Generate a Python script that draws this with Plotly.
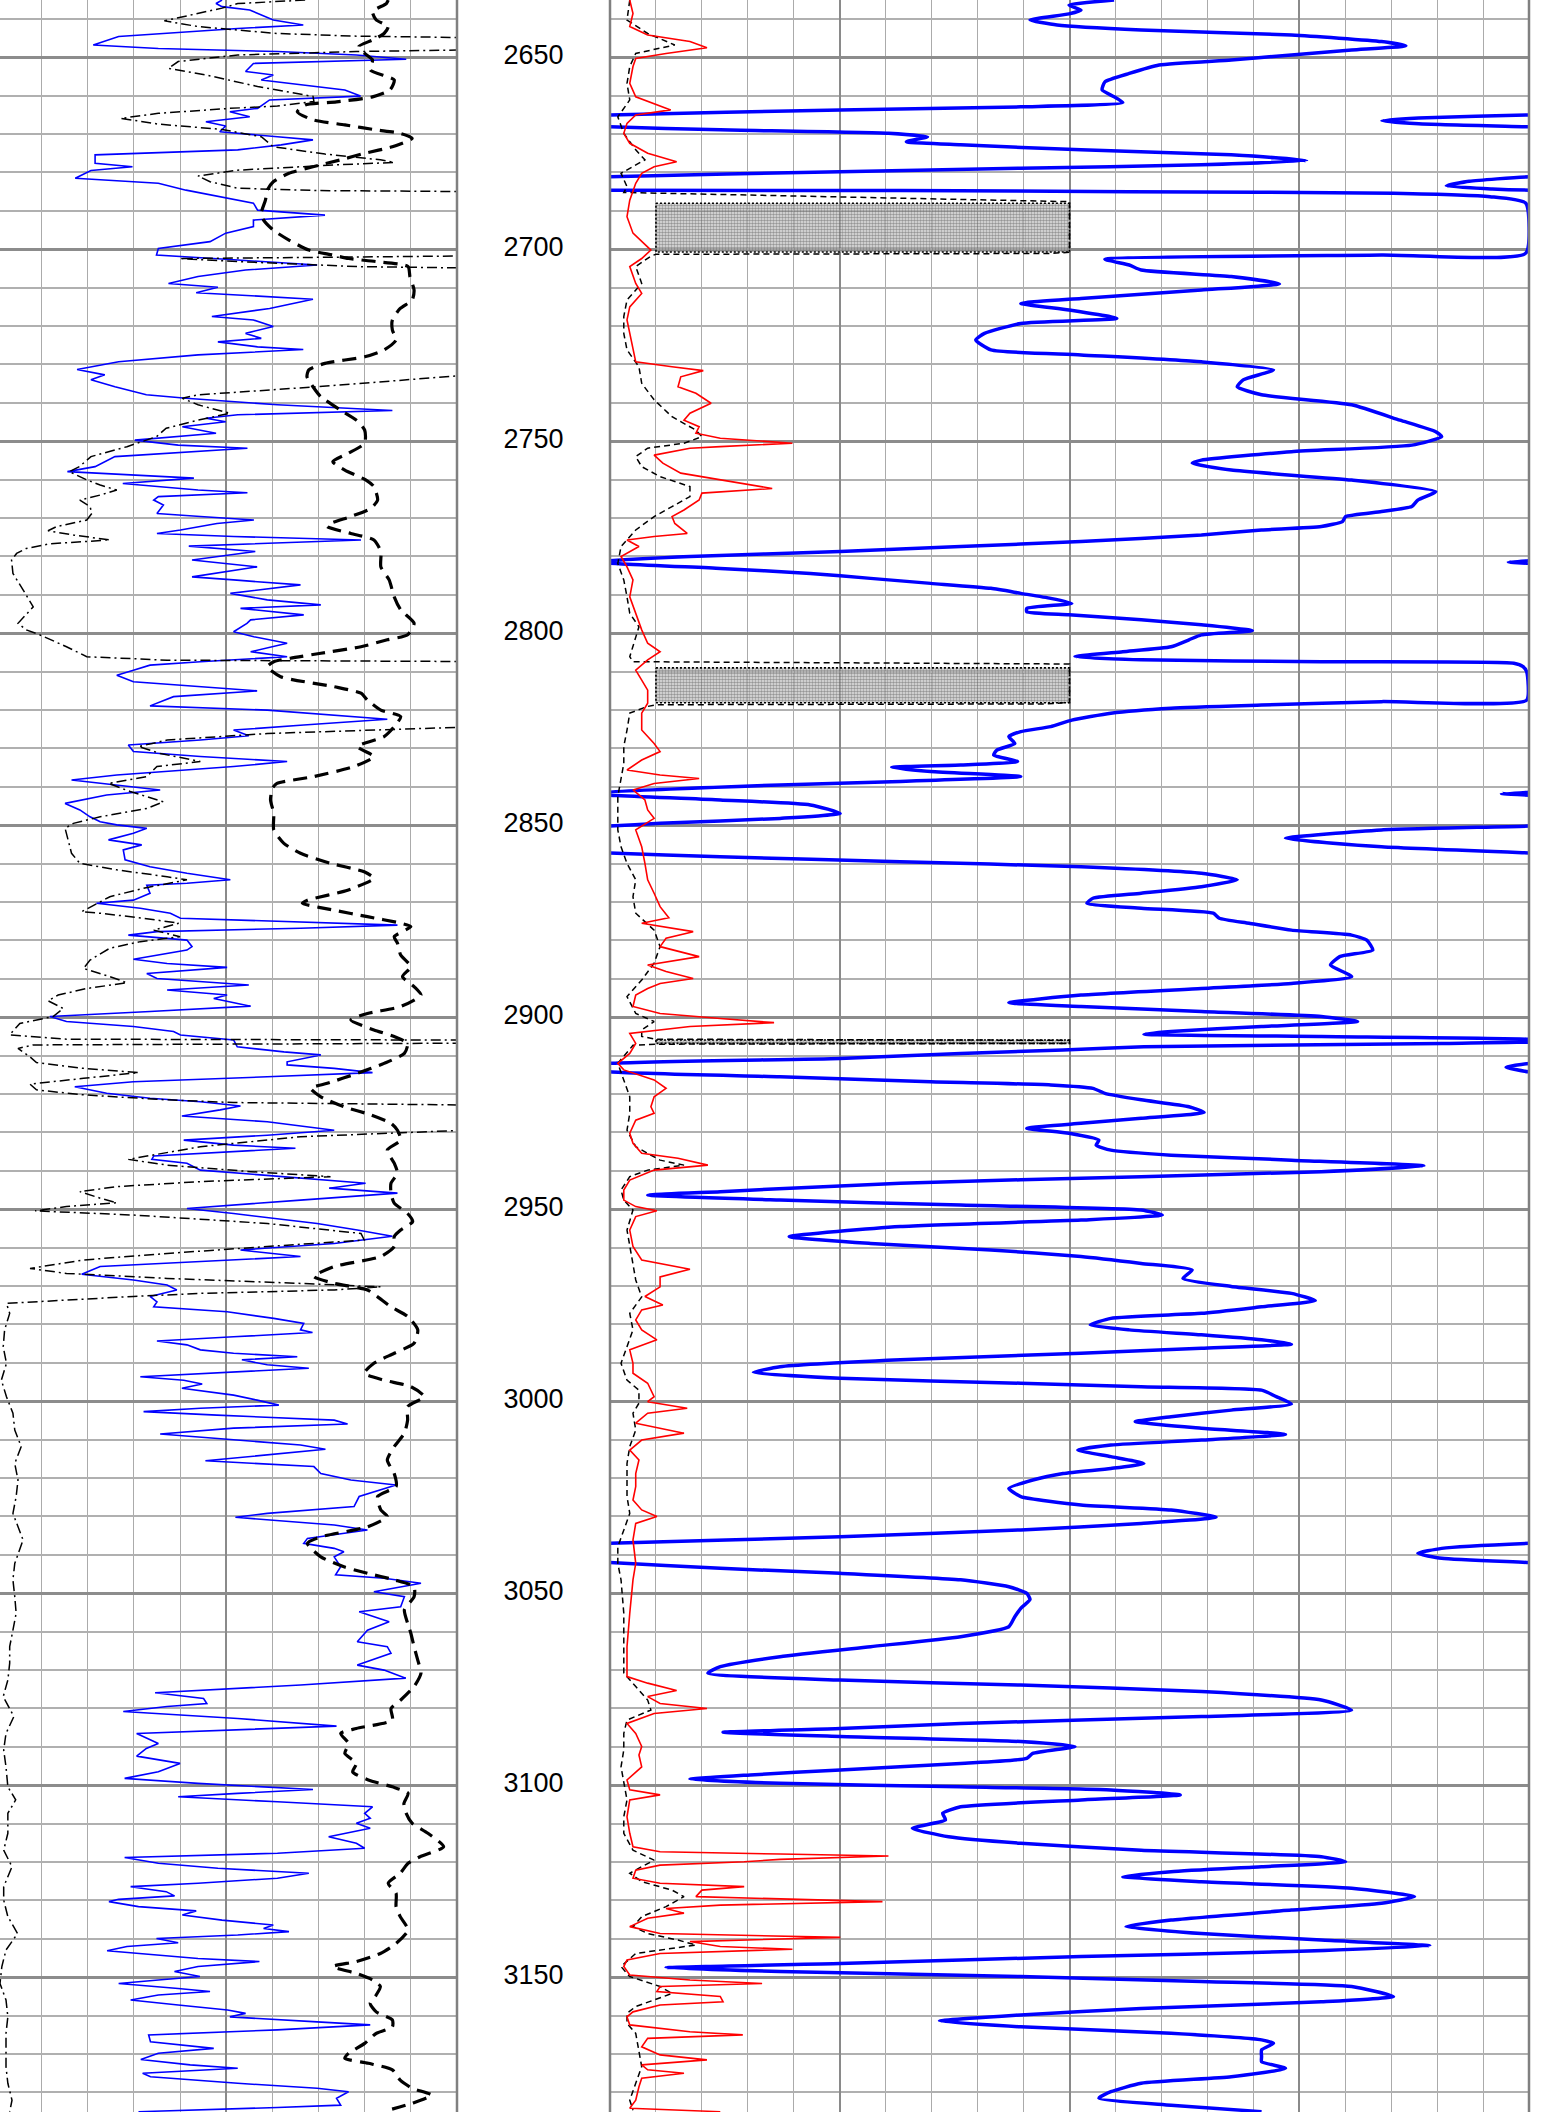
import plotly.graph_objects as go

# ---------------- figure geometry ----------------
W, H = 1543, 2112
DEPTH_TOP, DEPTH_BOT = 2635.08, 3185.08

# ---------------- data (depth m, value in chart divisions) ----------------
depth_labels = [2650, 2700, 2750, 2800, 2850, 2900, 2950, 3000, 3050, 3100, 3150]

# Track 1 : thin blue curve
t1_blue = [
    (2635.1, 4.91), (2636.0, 4.78), (2636.8, 4.91), (2637.7, 5.51), (2640.3, 6.02), (2641.6, 6.67),
    (2642.5, 5.25), (2644.6, 2.67), (2646.8, 2.12), (2647.7, 3.53), (2648.5, 6.11), (2649.4, 7.82),
    (2650.5, 8.90), (2651.6, 5.59), (2653.7, 5.42), (2654.6, 6.02), (2655.9, 5.76), (2657.2, 6.62),
    (2658.5, 7.57), (2660.1, 7.91), (2661.1, 5.94), (2663.3, 5.68), (2664.2, 5.08), (2665.5, 5.51),
    (2666.8, 4.56), (2667.9, 4.99), (2669.4, 4.86), (2670.7, 6.11), (2671.5, 6.88), (2672.8, 6.19),
    (2674.1, 5.25), (2675.4, 2.16), (2677.6, 2.16), (2678.5, 2.97), (2679.5, 2.07), (2681.5, 1.73),
    (2682.8, 3.53), (2684.6, 4.13), (2686.7, 4.99), (2688.0, 5.59), (2689.8, 5.68), (2691.1, 7.14),
    (2692.4, 5.59), (2694.1, 5.59), (2695.8, 4.99), (2698.0, 4.65), (2699.8, 3.53), (2701.5, 3.49),
    (2702.8, 5.25), (2704.1, 6.97), (2705.4, 5.42), (2707.1, 4.39), (2708.9, 3.75), (2709.9, 4.82),
    (2711.3, 4.35), (2712.3, 6.02), (2713.0, 6.88), (2715.4, 5.94), (2717.5, 4.69), (2718.4, 5.59),
    (2720.1, 6.02), (2721.9, 5.42), (2723.2, 5.76), (2724.1, 4.82), (2725.4, 5.68), (2726.1, 6.67),
    (2727.5, 4.39), (2729.3, 2.67), (2731.3, 1.77), (2732.7, 2.37), (2734.0, 2.07), (2735.8, 2.59),
    (2737.9, 3.27), (2738.8, 4.13), (2740.5, 6.11), (2742.0, 8.60), (2743.1, 5.25), (2744.0, 4.56),
    (2744.9, 4.99), (2746.2, 4.05), (2747.9, 4.78), (2749.7, 3.02), (2751.0, 3.96), (2751.8, 5.46),
    (2754.0, 2.59), (2756.6, 2.16), (2757.9, 1.56), (2759.6, 4.30), (2761.0, 2.76), (2762.7, 4.39),
    (2763.4, 5.46), (2764.4, 3.53), (2765.3, 3.43), (2766.6, 3.64), (2768.8, 3.50), (2769.6, 4.44),
    (2770.5, 5.60), (2771.4, 4.80), (2773.1, 4.01), (2774.0, 3.50), (2774.8, 5.16), (2775.7, 7.92),
    (2776.6, 5.89), (2777.3, 4.19), (2778.7, 5.63), (2780.9, 4.26), (2782.7, 5.67), (2785.3, 4.26),
    (2786.1, 5.16), (2787.4, 6.61), (2789.6, 5.09), (2791.3, 5.89), (2792.6, 7.05), (2793.5, 5.31),
    (2795.2, 6.68), (2796.5, 5.53), (2797.4, 5.45), (2799.6, 5.16), (2800.9, 5.60), (2802.6, 6.32),
    (2804.8, 5.53), (2806.1, 6.32), (2807.4, 4.44), (2808.3, 3.35), (2809.6, 2.99), (2810.9, 2.63),
    (2812.6, 2.99), (2813.9, 4.44), (2815.0, 5.67), (2816.5, 3.86), (2818.9, 3.35), (2820.0, 5.89),
    (2821.3, 7.34), (2822.4, 8.49), (2823.9, 6.68), (2825.2, 5.16), (2826.7, 5.49), (2827.8, 4.44),
    (2829.1, 2.88), (2830.8, 2.99), (2832.1, 4.44), (2833.4, 6.32), (2834.7, 5.16), (2835.6, 4.08),
    (2836.9, 2.63), (2838.2, 1.65), (2839.3, 2.48), (2840.8, 3.57), (2842.1, 2.41), (2844.3, 1.51),
    (2846.0, 1.83), (2847.8, 2.05), (2849.1, 2.27), (2849.9, 2.63), (2850.8, 3.28), (2852.1, 2.99),
    (2853.8, 2.45), (2855.1, 3.17), (2856.4, 2.77), (2859.0, 2.81), (2860.8, 3.35), (2862.5, 4.15),
    (2864.2, 5.09), (2865.1, 4.15), (2865.6, 3.28), (2867.7, 3.35), (2869.5, 2.99), (2870.3, 2.19),
    (2871.6, 3.14), (2872.9, 3.79), (2874.2, 4.01), (2875.1, 6.25), (2876.0, 8.71), (2876.8, 6.61),
    (2877.7, 3.50), (2878.6, 2.88), (2879.9, 4.15), (2881.6, 4.26), (2882.5, 4.15), (2884.9, 2.99),
    (2886.0, 3.72), (2887.0, 5.02), (2888.6, 3.28), (2889.9, 3.50), (2890.7, 4.44), (2891.6, 5.49),
    (2892.9, 3.72), (2894.2, 5.02), (2895.1, 4.73), (2897.1, 5.53), (2898.5, 3.35), (2899.8, 1.18),
    (2901.1, 1.54), (2902.4, 2.99), (2903.7, 3.86), (2904.6, 4.01), (2905.9, 5.16), (2907.7, 5.24),
    (2909.0, 6.25), (2909.8, 7.05), (2911.6, 6.32), (2912.4, 6.32), (2913.3, 7.34), (2914.4, 8.17),
    (2915.5, 5.89), (2916.8, 2.99), (2918.1, 1.72), (2919.8, 2.41), (2921.1, 3.35), (2922.0, 4.44),
    (2923.1, 5.31), (2924.1, 4.87), (2925.7, 4.04), (2927.2, 5.89), (2929.4, 7.34), (2930.7, 5.89),
    (2932.0, 4.08), (2933.3, 5.16), (2934.1, 6.50), (2935.0, 5.16), (2936.1, 3.43), (2937.0, 3.39),
    (2938.0, 4.15), (2939.8, 4.44), (2941.1, 5.89), (2942.4, 7.34), (2943.2, 8.02), (2944.5, 7.23),
    (2945.8, 8.71), (2947.6, 6.61), (2949.8, 4.15), (2951.1, 5.16), (2953.7, 6.97), (2955.4, 7.84),
    (2957.0, 8.60), (2958.9, 7.34), (2960.6, 5.31), (2962.3, 6.61), (2963.6, 4.44), (2964.9, 2.27),
    (2966.9, 1.87), (2968.4, 2.99), (2969.7, 3.72), (2971.0, 3.93), (2972.7, 3.35), (2974.1, 3.50),
    (2975.4, 3.43), (2976.7, 5.02), (2978.4, 6.03), (2979.7, 6.68), (2981.4, 6.61), (2982.1, 6.87),
    (2983.2, 5.16), (2984.3, 3.50), (2985.3, 4.15), (2986.6, 4.44), (2987.5, 5.16), (2988.4, 6.54),
    (2989.2, 5.34), (2990.5, 5.89), (2991.4, 6.79), (2992.3, 5.16), (2993.6, 3.14), (2994.5, 4.08),
    (2995.5, 4.48), (2996.6, 4.04), (2998.4, 5.16), (2999.7, 5.67), (3001.0, 6.14), (3001.8, 4.44),
    (3002.7, 3.21), (3003.6, 4.80), (3004.9, 7.34), (3005.9, 7.63), (3007.0, 5.16), (3008.5, 3.57),
    (3010.1, 5.16), (3011.4, 6.61), (3012.5, 7.15), (3014.0, 5.89), (3015.5, 4.55), (3017.0, 6.90),
    (3018.8, 7.05), (3020.5, 7.70), (3021.8, 8.68), (3024.8, 7.88), (3027.4, 7.77), (3029.2, 5.89),
    (3030.2, 5.20), (3032.2, 7.34), (3033.5, 8.06), (3035.7, 6.76), (3037.0, 6.68), (3038.3, 7.34),
    (3039.2, 7.55), (3040.5, 7.34), (3043.1, 7.48), (3045.2, 7.37), (3046.1, 8.42), (3047.4, 9.22),
    (3049.6, 8.20), (3050.9, 8.86), (3053.5, 8.78), (3054.8, 7.88), (3057.4, 8.53), (3059.6, 8.06),
    (3062.6, 7.84), (3063.9, 8.49), (3065.6, 8.57), (3068.7, 7.84), (3070.0, 8.42), (3072.1, 8.89),
    (3073.9, 6.61), (3075.9, 3.46), (3077.4, 4.51), (3078.7, 4.58), (3079.5, 3.72), (3080.8, 2.77),
    (3082.6, 5.25), (3084.6, 7.39), (3085.6, 5.25), (3086.5, 3.06), (3089.1, 3.53), (3090.4, 3.27),
    (3092.4, 3.06), (3093.9, 3.79), (3094.3, 4.00), (3096.5, 3.53), (3098.2, 2.80), (3099.5, 4.39),
    (3101.1, 6.88), (3102.1, 5.25), (3103.0, 3.96), (3104.3, 6.11), (3105.6, 8.17), (3107.3, 8.00),
    (3108.6, 8.12), (3109.9, 7.82), (3111.2, 8.12), (3113.4, 7.22), (3115.1, 7.82), (3116.4, 8.00),
    (3117.7, 6.11), (3118.8, 2.80), (3120.3, 3.53), (3121.6, 4.82), (3122.9, 6.79), (3124.2, 6.11),
    (3125.5, 4.39), (3126.4, 2.93), (3127.7, 3.70), (3128.8, 3.88), (3129.7, 2.67), (3130.3, 2.46),
    (3131.6, 3.10), (3132.7, 4.35), (3133.8, 4.05), (3135.1, 4.91), (3136.4, 6.02), (3137.3, 5.81),
    (3138.1, 6.36), (3139.0, 5.25), (3139.9, 3.49), (3141.0, 3.96), (3142.0, 2.85), (3143.1, 2.42),
    (3144.2, 3.53), (3145.1, 4.39), (3145.9, 5.72), (3147.2, 4.39), (3148.5, 3.88), (3149.8, 4.43),
    (3150.7, 3.53), (3151.6, 2.67), (3152.9, 3.96), (3153.7, 4.65), (3154.6, 3.53), (3155.9, 2.93),
    (3157.2, 3.96), (3158.5, 5.03), (3159.4, 5.42), (3160.3, 5.08), (3161.6, 6.97), (3162.4, 8.12),
    (3163.7, 6.11), (3165.0, 3.32), (3166.8, 3.36), (3168.5, 4.73), (3169.8, 3.53), (3171.4, 3.15),
    (3172.8, 4.22), (3173.7, 5.25), (3175.0, 3.19), (3175.9, 3.36), (3177.6, 5.25), (3178.9, 6.97),
    (3179.8, 7.65), (3181.5, 7.39), (3183.3, 7.48), (3183.9, 6.11), (3185.0, 3.10),
]

# Track 1 : thin black dash-dot curve (values above 10 run off the track)
t1_dashdot = [
    (2635.1, 6.71), (2636.0, 5.25), (2637.2, 4.91), (2639.0, 4.22), (2640.5, 3.66), (2642.0, 4.39),
    (2643.8, 6.11), (2644.5, 7.82), (2645.3, 13.0), (2647.6, 13.0), (2648.5, 7.82), (2649.4, 5.25),
    (2651.1, 3.96), (2652.9, 3.75), (2654.6, 4.56), (2657.6, 5.68), (2660.2, 6.88), (2661.5, 6.90),
    (2662.7, 6.11), (2663.3, 5.08), (2664.6, 3.53), (2665.9, 2.72), (2667.4, 3.53), (2668.8, 4.91),
    (2670.7, 5.76), (2673.3, 6.02), (2675.2, 7.14), (2676.7, 8.34), (2677.4, 8.64), (2678.0, 7.39),
    (2679.4, 5.25), (2680.9, 4.39), (2682.4, 4.65), (2684.1, 5.25), (2684.7, 6.97), (2685.2, 13.0),
    (2701.4, 13.0), (2702.1, 6.97), (2702.4, 4.00), (2703.2, 5.25), (2704.5, 7.82), (2705.3, 13.0),
    (2732.7, 13.0), (2733.0, 9.97), (2735.8, 6.97), (2737.9, 4.39), (2738.8, 4.05), (2740.5, 4.39),
    (2742.7, 5.08), (2744.5, 4.39), (2746.6, 3.70), (2748.8, 3.49), (2751.4, 2.85), (2754.0, 2.07),
    (2756.6, 1.82), (2757.9, 1.60), (2760.1, 1.99), (2761.4, 2.27), (2762.7, 2.63), (2764.0, 2.27),
    (2765.3, 1.83), (2767.0, 2.05), (2768.8, 2.09), (2770.5, 1.98), (2772.2, 1.33), (2773.3, 1.14),
    (2774.4, 1.69), (2775.7, 2.48), (2776.7, 1.18), (2777.9, 0.67), (2779.2, 0.46), (2780.9, 0.35),
    (2784.4, 0.38), (2788.7, 0.60), (2793.1, 0.82), (2797.4, 0.49), (2799.1, 0.67), (2800.4, 0.96),
    (2803.5, 1.54), (2806.1, 1.98), (2807.0, 3.72), (2807.5, 13.0), (2824.3, 13.0), (2824.5, 10.0),
    (2826.1, 5.89), (2827.8, 3.72), (2829.5, 3.10), (2831.3, 3.57), (2833.4, 4.44), (2834.7, 3.50),
    (2837.3, 3.28), (2839.1, 2.45), (2841.2, 2.92), (2843.9, 3.64), (2845.6, 3.28), (2847.8, 2.27),
    (2849.5, 1.69), (2850.8, 1.51), (2853.8, 1.58), (2857.3, 1.65), (2859.9, 1.83), (2861.6, 2.63),
    (2863.4, 3.72), (2864.2, 4.15), (2866.4, 3.21), (2868.6, 2.48), (2872.5, 1.87), (2872.9, 2.27),
    (2874.2, 3.21), (2875.5, 3.97), (2877.3, 3.43), (2879.0, 4.00), (2880.3, 3.14), (2882.0, 2.48),
    (2885.1, 2.05), (2887.3, 1.91), (2889.4, 2.48), (2891.0, 2.85), (2892.5, 1.98), (2894.2, 1.36),
    (2895.7, 1.14), (2897.7, 1.47), (2899.8, 1.25), (2901.6, 0.53), (2904.6, 0.31), (2905.7, 1.54),
    (2906.0, 13.0), (2906.6, 13.0), (2907.2, 0.82), (2908.1, 0.49), (2910.3, 0.75), (2911.8, 0.89),
    (2913.3, 1.91), (2914.4, 3.10), (2915.9, 1.91), (2917.4, 0.75), (2918.9, 0.89), (2920.2, 1.91),
    (2921.5, 3.72), (2922.2, 5.16), (2923.2, 13.0), (2929.3, 13.0), (2929.5, 10.0), (2931.1, 6.61),
    (2933.7, 4.44), (2936.3, 3.14), (2937.0, 2.88), (2938.5, 3.72), (2940.2, 5.53), (2941.5, 7.26),
    (2942.8, 4.44), (2944.1, 2.63), (2945.4, 1.83), (2947.1, 2.27), (2948.3, 2.63), (2949.3, 1.54),
    (2950.4, 0.86), (2951.5, 2.99), (2953.7, 5.89), (2956.3, 7.92), (2958.0, 7.99), (2959.7, 5.89),
    (2961.5, 3.72), (2963.2, 1.91), (2965.4, 0.75), (2966.7, 1.54), (2968.0, 3.72), (2969.3, 6.61),
    (2970.2, 8.35), (2971.0, 7.34), (2971.9, 4.44), (2972.7, 2.99), (2973.6, 1.54), (2974.5, 0.24),
    (2977.1, 0.31), (2981.4, 0.20), (2985.8, 0.17), (2990.1, 0.24), (2994.5, 0.13), (2998.8, 0.24),
    (3003.1, 0.38), (3007.5, 0.42), (3011.8, 0.56), (3016.2, 0.42), (3020.5, 0.49), (3024.8, 0.45),
    (3029.2, 0.38), (3036.1, 0.60), (3042.2, 0.42), (3046.5, 0.38), (3050.9, 0.42), (3055.2, 0.45),
    (3059.6, 0.38), (3063.9, 0.31), (3068.2, 0.31), (3072.6, 0.27), (3076.9, 0.17), (3082.1, 0.40),
    (3086.5, 0.23), (3090.8, 0.18), (3095.2, 0.23), (3100.4, 0.27), (3103.8, 0.44), (3107.3, 0.27),
    (3112.5, 0.27), (3116.9, 0.18), (3121.2, 0.36), (3126.4, 0.18), (3129.9, 0.18), (3134.2, 0.27),
    (3138.6, 0.48), (3142.9, 0.23), (3147.2, 0.14), (3151.6, 0.10), (3155.9, 0.23), (3160.3, 0.27),
    (3164.6, 0.23), (3168.9, 0.23), (3173.3, 0.23), (3177.6, 0.27), (3182.0, 0.36), (3185.0, 0.31),
]

# Track 1 : thick black dashed curve
t1_thick = [
    (2635.1, 8.51), (2636.0, 8.47), (2638.1, 8.17), (2640.3, 8.25), (2642.0, 8.51), (2643.8, 8.42),
    (2645.5, 8.17), (2647.2, 7.87), (2649.0, 8.00), (2650.7, 8.17), (2653.3, 8.12), (2655.9, 8.64),
    (2658.5, 8.55), (2660.3, 8.17), (2661.6, 7.39), (2662.4, 6.71), (2664.2, 6.54), (2666.3, 6.88),
    (2667.6, 7.57), (2668.9, 8.25), (2669.8, 8.77), (2671.1, 9.03), (2673.3, 8.60), (2675.0, 8.00),
    (2676.7, 7.48), (2678.5, 6.88), (2680.2, 6.36), (2682.4, 6.02), (2684.6, 5.89), (2687.2, 5.85),
    (2690.6, 5.76), (2692.4, 5.81), (2695.0, 6.02), (2697.6, 6.36), (2700.2, 6.79), (2701.5, 7.31),
    (2702.4, 7.65), (2703.2, 8.25), (2704.5, 8.94), (2707.1, 8.98), (2710.6, 9.07), (2713.2, 9.03),
    (2715.4, 8.77), (2718.4, 8.60), (2721.0, 8.60), (2723.6, 8.68), (2726.2, 8.42), (2728.0, 8.00),
    (2729.7, 7.14), (2731.4, 6.79), (2733.2, 6.75), (2735.8, 6.88), (2738.4, 7.05), (2741.9, 7.48),
    (2744.5, 7.82), (2747.1, 8.00), (2750.5, 8.00), (2753.1, 7.65), (2755.3, 7.31), (2757.5, 7.57),
    (2760.1, 8.03), (2761.8, 8.20), (2765.3, 8.28), (2767.5, 8.13), (2769.6, 7.70), (2771.4, 7.26),
    (2772.2, 7.19), (2774.0, 7.70), (2775.7, 8.20), (2778.7, 8.35), (2782.7, 8.35), (2786.1, 8.53),
    (2790.5, 8.64), (2793.9, 8.78), (2797.4, 9.07), (2800.4, 8.93), (2801.7, 8.49), (2803.5, 7.92),
    (2805.2, 7.05), (2806.5, 6.39), (2807.4, 6.03), (2808.7, 5.89), (2811.3, 6.18), (2813.9, 7.34),
    (2815.6, 7.92), (2817.4, 8.06), (2820.0, 8.35), (2821.7, 8.78), (2824.3, 8.64), (2826.9, 8.42),
    (2829.5, 7.84), (2832.1, 8.20), (2834.7, 7.77), (2837.3, 6.90), (2839.1, 6.10), (2840.4, 6.00),
    (2843.4, 5.96), (2846.9, 6.03), (2851.2, 6.03), (2854.7, 6.25), (2857.3, 6.61), (2859.9, 7.26),
    (2862.1, 7.99), (2863.8, 8.20), (2866.9, 7.63), (2869.5, 6.76), (2870.3, 6.65), (2872.1, 7.34),
    (2873.8, 8.06), (2875.5, 8.78), (2876.4, 9.00), (2879.0, 8.64), (2880.7, 8.71), (2883.8, 8.78),
    (2886.8, 9.00), (2889.4, 8.82), (2892.0, 9.07), (2894.2, 9.22), (2897.2, 8.78), (2899.0, 8.06),
    (2900.7, 7.70), (2903.3, 8.20), (2905.0, 8.64), (2906.8, 8.93), (2909.4, 8.86), (2912.0, 8.42),
    (2914.6, 7.84), (2917.2, 7.19), (2918.5, 6.83), (2920.7, 7.05), (2923.3, 7.55), (2925.4, 8.13),
    (2927.6, 8.57), (2929.4, 8.71), (2932.0, 8.78), (2934.6, 8.49), (2938.0, 8.64), (2940.6, 8.71),
    (2943.2, 8.57), (2945.8, 8.57), (2948.4, 8.64), (2951.1, 8.93), (2953.2, 9.04), (2955.4, 8.78),
    (2957.1, 8.64), (2959.7, 8.64), (2962.3, 8.35), (2964.9, 7.34), (2967.5, 6.90), (2969.3, 7.34),
    (2971.0, 8.06), (2972.8, 8.28), (2975.4, 8.57), (2977.9, 8.93), (2981.4, 9.15), (2984.9, 9.07),
    (2987.5, 8.64), (2990.1, 8.20), (2992.7, 7.99), (2994.5, 8.42), (2996.2, 9.00), (2998.8, 9.29),
    (3001.4, 8.93), (3004.9, 8.93), (3008.3, 8.86), (3011.8, 8.64), (3015.3, 8.49), (3018.8, 8.64),
    (3022.2, 8.68), (3024.8, 8.28), (3028.3, 8.35), (3030.0, 8.49), (3032.7, 8.06), (3035.3, 7.05),
    (3037.0, 6.76), (3040.5, 7.05), (3043.1, 7.55), (3044.8, 8.06), (3046.5, 8.64), (3048.3, 9.07),
    (3050.9, 9.07), (3054.3, 8.86), (3057.8, 8.93), (3060.4, 9.00), (3063.9, 9.07), (3067.4, 9.15),
    (3070.8, 9.22), (3074.3, 9.07), (3077.8, 8.78), (3080.0, 8.57), (3083.0, 8.60), (3085.2, 7.82),
    (3086.5, 7.48), (3089.1, 7.65), (3091.7, 7.57), (3094.3, 7.82), (3096.5, 7.74), (3098.6, 8.08),
    (3100.4, 8.60), (3102.1, 8.94), (3104.7, 8.85), (3107.3, 8.90), (3109.9, 9.03), (3112.5, 9.37),
    (3116.0, 9.71), (3118.6, 9.20), (3120.3, 8.94), (3122.9, 8.77), (3125.5, 8.51), (3128.1, 8.68),
    (3131.6, 8.68), (3134.2, 8.77), (3137.7, 8.94), (3141.2, 8.68), (3143.8, 8.34), (3145.9, 7.82),
    (3147.2, 7.31), (3149.0, 7.82), (3150.7, 8.17), (3152.4, 8.34), (3154.6, 8.25), (3156.8, 8.12),
    (3159.0, 8.25), (3161.1, 8.60), (3162.9, 8.60), (3164.6, 8.25), (3167.2, 8.00), (3169.8, 7.65),
    (3171.1, 7.57), (3172.4, 8.08), (3174.1, 8.60), (3176.8, 8.77), (3178.9, 9.03), (3180.7, 9.45),
    (3182.8, 9.03), (3184.6, 8.51),
]

# Track 2 : thin red curve (0-20 divisions)
t2_red = [
    (2635.1, 0.43), (2638.6, 0.50), (2642.0, 0.43), (2644.2, 0.82), (2645.9, 1.74), (2647.5, 2.11),
    (2649.0, 1.22), (2650.3, 0.56), (2652.4, 0.50), (2656.8, 0.43), (2660.3, 0.56), (2662.0, 0.96),
    (2663.7, 1.32), (2665.0, 0.56), (2667.2, 0.37), (2669.8, 0.30), (2672.4, 0.43), (2675.0, 0.82),
    (2677.2, 1.45), (2678.5, 0.96), (2680.2, 0.69), (2682.8, 0.56), (2687.2, 0.43), (2691.5, 0.37),
    (2695.8, 0.50), (2700.2, 0.89), (2702.4, 0.69), (2704.5, 0.43), (2708.9, 0.56), (2711.5, 0.69),
    (2715.0, 0.43), (2718.4, 0.37), (2721.9, 0.43), (2726.2, 0.50), (2729.3, 0.56), (2730.6, 1.35),
    (2731.6, 2.03), (2733.2, 1.54), (2735.8, 1.48), (2737.5, 1.87), (2740.1, 2.20), (2742.7, 1.74),
    (2744.5, 1.61), (2746.2, 1.94), (2747.9, 1.87), (2749.2, 2.40), (2750.5, 3.97), (2751.4, 2.40),
    (2751.8, 1.74), (2753.6, 0.96), (2755.7, 1.15), (2758.3, 1.54), (2760.1, 2.40), (2762.3, 3.53),
    (2763.5, 2.00), (2765.3, 1.94), (2767.9, 1.61), (2769.6, 1.35), (2771.4, 1.41), (2774.0, 1.68),
    (2774.8, 0.96), (2775.7, 0.37), (2777.4, 0.63), (2780.0, 0.24), (2782.7, 0.37), (2786.1, 0.50),
    (2790.5, 0.43), (2794.8, 0.56), (2799.1, 0.69), (2802.6, 0.82), (2804.8, 1.09), (2806.9, 0.82),
    (2809.6, 0.56), (2812.2, 0.69), (2814.8, 0.82), (2818.2, 0.82), (2820.8, 0.69), (2825.2, 0.69),
    (2828.7, 0.96), (2830.8, 1.09), (2833.0, 0.69), (2835.6, 0.37), (2836.9, 1.09), (2837.8, 1.94),
    (2839.1, 0.96), (2840.8, 0.50), (2843.4, 0.76), (2846.0, 0.82), (2848.2, 0.96), (2851.2, 0.56),
    (2855.6, 0.69), (2859.9, 0.76), (2864.2, 0.82), (2867.7, 0.96), (2871.2, 1.09), (2874.1, 1.28),
    (2875.5, 0.69), (2877.7, 1.81), (2879.4, 1.22), (2881.6, 1.09), (2884.2, 1.94), (2886.4, 0.82),
    (2888.1, 1.22), (2889.9, 1.81), (2891.2, 1.09), (2892.5, 0.82), (2894.2, 0.56), (2897.2, 0.50),
    (2899.0, 1.09), (2900.3, 2.40), (2901.4, 3.57), (2902.4, 1.74), (2904.2, 0.43), (2906.8, 0.56),
    (2909.4, 0.43), (2912.0, 0.17), (2913.7, 0.30), (2916.3, 0.96), (2918.5, 1.22), (2920.7, 0.96),
    (2923.3, 0.89), (2925.0, 0.96), (2926.8, 0.56), (2930.2, 0.43), (2932.8, 0.50), (2935.4, 0.69),
    (2936.7, 1.48), (2938.5, 2.13), (2939.8, 0.96), (2942.4, 0.43), (2945.0, 0.30), (2947.6, 0.30),
    (2949.3, 0.56), (2950.4, 1.02), (2951.9, 0.56), (2955.4, 0.43), (2959.7, 0.50), (2963.2, 0.69),
    (2965.6, 1.74), (2967.6, 1.09), (2970.2, 1.09), (2972.7, 0.76), (2974.9, 1.15), (2976.2, 0.69),
    (2978.8, 0.56), (2981.4, 0.69), (2984.0, 1.02), (2986.6, 0.43), (2990.1, 0.50), (2992.7, 0.50),
    (2995.3, 0.82), (2998.8, 0.96), (3000.1, 0.82), (3001.8, 1.68), (3003.1, 0.82), (3005.7, 0.56),
    (3008.3, 1.61), (3010.1, 0.69), (3012.7, 0.43), (3015.3, 0.63), (3018.8, 0.56), (3022.2, 0.56),
    (3025.7, 0.50), (3028.3, 0.69), (3030.0, 1.02), (3031.8, 0.56), (3036.1, 0.50), (3042.2, 0.56),
    (3046.5, 0.50), (3055.2, 0.43), (3063.9, 0.37), (3071.7, 0.37), (3073.4, 0.82), (3075.3, 1.45),
    (3076.9, 0.82), (3078.7, 1.09), (3080.0, 2.11), (3081.3, 0.96), (3083.9, 0.37), (3086.5, 0.56),
    (3089.9, 0.69), (3092.1, 0.63), (3095.2, 0.69), (3098.6, 0.37), (3101.2, 0.43), (3102.5, 1.09),
    (3103.8, 0.43), (3108.2, 0.37), (3112.5, 0.43), (3116.0, 0.50), (3117.3, 1.09), (3117.9, 3.70),
    (3118.4, 6.06), (3119.3, 3.70), (3119.9, 2.92), (3120.8, 1.09), (3122.1, 0.56), (3124.2, 0.50),
    (3125.5, 1.09), (3126.4, 2.92), (3127.3, 2.00), (3129.0, 1.87), (3129.9, 4.36), (3130.3, 5.93),
    (3131.2, 2.40), (3132.1, 1.22), (3133.3, 1.61), (3134.6, 0.82), (3136.8, 0.43), (3138.6, 1.09),
    (3139.6, 5.01), (3140.7, 1.74), (3142.0, 2.40), (3142.7, 3.97), (3143.8, 1.09), (3145.5, 0.37),
    (3147.2, 0.30), (3149.4, 0.43), (3150.7, 1.74), (3151.6, 3.31), (3152.4, 1.09), (3153.7, 1.02),
    (3155.0, 2.40), (3156.4, 2.46), (3157.2, 1.09), (3159.0, 0.50), (3160.3, 0.37), (3162.4, 0.43),
    (3164.2, 1.74), (3165.0, 2.89), (3165.9, 0.82), (3168.1, 0.69), (3170.2, 1.09), (3171.5, 2.11),
    (3172.8, 0.69), (3174.1, 0.82), (3175.0, 1.61), (3176.3, 0.69), (3178.5, 0.63), (3182.0, 0.56),
    (3184.1, 0.43), (3185.0, 2.40),
]

# Track 2 : thin black dashed curve, scaled on the left half only (0-10 divisions)
t2_dashed = [
    (2635.1, 0.43), (2640.3, 0.37), (2643.8, 0.82), (2646.8, 1.41), (2649.0, 0.56), (2652.4, 0.43),
    (2656.8, 0.37), (2661.1, 0.43), (2665.5, 0.17), (2669.8, 0.30), (2674.1, 0.56), (2676.7, 0.76),
    (2680.2, 0.24), (2683.7, 0.37), (2685.2, 0.30), (2686.3, 5.00), (2687.6, 10.0), (2688.0, 11.0),
    (2700.8, 11.0), (2701.1, 9.50), (2701.3, 1.00), (2701.7, 0.90), (2704.5, 0.56), (2708.9, 0.69),
    (2713.2, 0.37), (2717.5, 0.30), (2721.9, 0.30), (2726.2, 0.37), (2730.6, 0.63), (2734.9, 0.69),
    (2739.2, 0.96), (2743.6, 1.35), (2747.1, 1.87), (2748.8, 2.00), (2750.5, 1.61), (2751.8, 0.82),
    (2754.0, 0.56), (2756.6, 0.69), (2759.2, 1.09), (2761.8, 1.74), (2764.4, 1.74), (2767.0, 1.35),
    (2769.6, 0.96), (2773.1, 0.56), (2777.4, 0.24), (2781.8, 0.17), (2786.1, 0.30), (2790.5, 0.37),
    (2794.8, 0.43), (2798.3, 0.63), (2800.9, 0.56), (2803.5, 0.50), (2806.1, 0.43), (2807.4, 0.50),
    (2807.7, 5.80), (2808.0, 10.0), (2808.3, 11.0), (2818.0, 11.0), (2818.4, 9.50), (2818.6, 1.00),
    (2819.1, 0.80), (2820.8, 0.43), (2825.2, 0.37), (2829.5, 0.30), (2833.9, 0.30), (2838.2, 0.24),
    (2842.5, 0.17), (2846.9, 0.17), (2851.2, 0.17), (2855.6, 0.24), (2859.9, 0.37), (2864.2, 0.56),
    (2868.6, 0.50), (2872.9, 0.56), (2877.3, 0.96), (2881.6, 1.09), (2885.9, 0.96), (2890.3, 0.69),
    (2894.6, 0.37), (2899.0, 0.56), (2901.1, 0.96), (2903.3, 0.69), (2905.0, 0.69), (2905.7, 1.00),
    (2905.9, 10.0), (2906.0, 11.0), (2906.7, 11.0), (2906.8, 10.0), (2907.0, 1.00), (2907.3, 0.50),
    (2912.0, 0.17), (2916.3, 0.30), (2920.7, 0.43), (2925.0, 0.43), (2929.4, 0.37), (2933.7, 0.56),
    (2937.2, 1.09), (2938.5, 1.61), (2939.8, 0.82), (2941.5, 0.43), (2945.0, 0.24), (2947.6, 0.30),
    (2950.2, 0.50), (2955.4, 0.37), (2959.7, 0.43), (2964.1, 0.50), (2968.4, 0.56), (2972.8, 0.69),
    (2977.1, 0.43), (2981.4, 0.50), (2985.8, 0.37), (2990.1, 0.24), (2994.5, 0.37), (2997.1, 0.63),
    (3000.5, 0.63), (3003.1, 0.50), (3007.5, 0.56), (3011.8, 0.43), (3016.2, 0.37), (3020.5, 0.37),
    (3024.8, 0.37), (3029.2, 0.43), (3033.5, 0.30), (3037.9, 0.17), (3042.2, 0.17), (3046.5, 0.24),
    (3055.2, 0.30), (3063.9, 0.30), (3070.8, 0.30), (3074.3, 0.56), (3077.8, 0.82), (3080.4, 0.89),
    (3083.0, 0.37), (3086.5, 0.30), (3090.8, 0.30), (3095.2, 0.24), (3099.5, 0.30), (3103.8, 0.37),
    (3108.2, 0.30), (3112.5, 0.30), (3116.9, 0.50), (3119.5, 0.96), (3121.2, 0.69), (3122.9, 0.43),
    (3125.1, 0.69), (3127.3, 1.35), (3129.0, 1.61), (3131.6, 1.22), (3134.2, 0.69), (3136.8, 0.50),
    (3138.6, 0.82), (3140.3, 1.48), (3141.6, 1.87), (3143.8, 0.56), (3147.2, 0.24), (3149.8, 0.43),
    (3152.4, 1.09), (3154.2, 1.35), (3155.9, 0.96), (3157.6, 0.56), (3159.4, 0.37), (3162.0, 0.37),
    (3164.6, 0.56), (3168.9, 0.63), (3173.3, 0.69), (3177.6, 0.56), (3182.0, 0.43), (3184.6, 0.50),
]

# Track 2 : thick blue curve (0-20 divisions; values below 0 wrap round to the right side)
t2_blue = [
    (2635.1, 10.97), (2636.4, 9.99), (2637.7, 10.25), (2638.7, 9.99), (2640.3, 9.14), (2641.6, 9.73),
    (2642.9, 11.56), (2644.2, 14.83), (2645.9, 16.79), (2647.0, 17.32), (2648.1, 16.14), (2649.4, 14.83),
    (2650.7, 13.52), (2652.0, 11.95), (2654.2, 11.30), (2656.4, 10.77), (2658.5, 10.71), (2660.3, 10.97),
    (2661.8, 11.16), (2662.9, 8.94), (2663.7, 5.01), (2665.0, 0.0), (2665.8, -2.4), (2666.5, -3.2),
    (2667.3, -2.4), (2668.1, 0.0), (2668.9, 2.40), (2669.8, 6.06), (2670.7, 6.91), (2672.0, 6.45),
    (2672.8, 7.63), (2674.1, 10.25), (2675.4, 13.52), (2676.9, 15.16), (2678.0, 12.87), (2678.9, 8.94),
    (2679.8, 5.01), (2681.1, 0.0), (2682.3, -1.3), (2683.5, -1.8), (2684.3, -0.8), (2684.6, 0.0),
    (2684.7, 6.32), (2685.0, 11.30), (2685.4, 17.05), (2686.3, 19.15), (2688.0, 19.93), (2701.0, 19.93),
    (2701.5, 16.79), (2702.6, 10.77), (2704.1, 11.30), (2705.4, 11.56), (2707.1, 13.52), (2709.0, 14.57),
    (2710.6, 12.87), (2712.8, 10.25), (2714.1, 8.94), (2715.8, 9.99), (2718.0, 11.03), (2719.3, 8.94),
    (2721.9, 8.15), (2723.6, 7.96), (2726.2, 8.29), (2727.5, 10.25), (2729.3, 12.87), (2731.4, 14.44),
    (2734.0, 13.78), (2735.8, 13.65), (2737.9, 14.18), (2740.5, 16.14), (2744.5, 17.19), (2747.5, 17.97),
    (2748.8, 18.10), (2751.0, 17.45), (2752.7, 14.83), (2754.9, 12.87), (2755.7, 12.67), (2757.5, 13.52),
    (2760.1, 16.14), (2763.1, 17.97), (2765.3, 17.58), (2767.0, 17.45), (2768.3, 16.79), (2769.6, 16.01),
    (2770.9, 15.94), (2772.2, 15.48), (2773.1, 14.18), (2774.4, 12.87), (2776.1, 10.25), (2777.4, 7.63),
    (2778.7, 5.01), (2780.0, 1.74), (2781.4, -0.45), (2783.1, 2.40), (2784.4, 4.36), (2785.7, 5.67),
    (2787.0, 6.98), (2788.3, 8.29), (2789.6, 8.94), (2790.9, 9.59), (2792.2, 10.05), (2793.5, 9.07),
    (2794.4, 9.07), (2795.2, 9.99), (2796.5, 11.56), (2797.8, 12.87), (2799.3, 13.98), (2800.4, 12.87),
    (2801.7, 12.60), (2803.5, 12.21), (2804.8, 11.16), (2806.1, 10.12), (2806.9, 11.56), (2807.4, 15.48),
    (2807.8, 19.67), (2808.7, 19.87), (2810.0, 19.95), (2817.4, 19.95), (2817.8, 16.79), (2818.7, 14.18),
    (2819.5, 12.21), (2820.8, 10.90), (2822.6, 10.05), (2824.3, 9.59), (2825.6, 8.94), (2826.9, 8.68),
    (2828.7, 8.81), (2830.4, 8.42), (2831.7, 8.35), (2833.4, 8.87), (2834.3, 7.63), (2834.9, 6.13),
    (2836.0, 6.98), (2837.3, 8.94), (2838.6, 6.32), (2839.5, 3.70), (2841.7, -0.6), (2843.4, 2.40),
    (2844.7, 4.36), (2846.9, 5.01), (2848.2, 3.70), (2849.5, 1.09), (2850.2, 0.0), (2851.2, -3.21),
    (2853.4, -5.30), (2855.6, -3.21), (2857.2, 0.0), (2858.2, 2.40), (2859.5, 6.32), (2860.8, 10.25),
    (2862.5, 12.87), (2864.2, 13.65), (2866.0, 12.87), (2867.7, 11.56), (2869.0, 10.51), (2870.3, 10.38),
    (2871.6, 11.56), (2872.9, 13.13), (2874.2, 13.26), (2875.5, 13.91), (2877.3, 14.83), (2878.6, 16.14),
    (2879.9, 16.47), (2882.5, 16.60), (2884.2, 15.88), (2886.4, 15.68), (2889.4, 16.14), (2891.2, 14.83),
    (2892.5, 12.87), (2894.2, 10.25), (2896.2, 8.68), (2897.2, 10.25), (2898.5, 12.87), (2899.8, 15.48),
    (2901.1, 16.27), (2902.4, 14.18), (2903.7, 12.21), (2904.4, 11.62), (2905.0, 15.48), (2905.7, 19.95),
    (2906.3, 20.40), (2906.8, 18.10), (2907.7, 11.62), (2908.5, 9.86), (2909.4, 7.63), (2910.7, 5.01),
    (2912.0, 0.0), (2913.0, -0.5), (2914.2, 0.0), (2915.5, 3.70), (2916.8, 6.98), (2917.6, 9.59),
    (2918.5, 10.51), (2919.8, 10.77), (2921.5, 11.56), (2923.3, 12.60), (2924.8, 12.93), (2926.3, 11.56),
    (2927.6, 10.25), (2928.9, 9.07), (2930.2, 9.99), (2932.0, 10.64), (2933.3, 10.58), (2934.6, 10.90),
    (2935.9, 12.21), (2937.2, 14.83), (2938.7, 17.71), (2940.2, 15.48), (2941.5, 11.56), (2943.2, 6.32),
    (2945.4, 2.40), (2946.3, 0.82), (2947.6, 3.70), (2948.9, 7.63), (2950.2, 11.56), (2951.5, 12.02),
    (2952.8, 10.25), (2954.5, 6.32), (2957.1, 3.90), (2958.9, 5.67), (2960.6, 8.29), (2962.3, 10.25),
    (2964.1, 11.56), (2965.8, 12.67), (2968.0, 12.47), (2970.1, 13.52), (2971.9, 14.83), (2973.8, 15.35),
    (2975.4, 14.18), (2977.1, 12.87), (2978.4, 10.90), (2980.1, 10.45), (2981.4, 11.30), (2982.7, 12.87),
    (2984.0, 14.18), (2985.1, 14.83), (2986.2, 12.87), (2987.5, 10.25), (2989.2, 6.32), (2991.0, 3.70),
    (2992.5, 3.12), (2994.0, 5.01), (2995.3, 8.94), (2996.2, 11.56), (2997.1, 14.18), (2998.8, 14.50),
    (3000.7, 14.83), (3002.3, 13.52), (3004.0, 12.21), (3005.3, 11.43), (3007.0, 12.87), (3008.6, 14.70),
    (3010.1, 12.87), (3011.4, 10.90), (3012.7, 10.18), (3014.4, 10.90), (3016.2, 11.62), (3017.5, 10.90),
    (3018.8, 9.86), (3020.5, 9.20), (3022.7, 8.68), (3024.8, 8.94), (3027.0, 10.25), (3028.3, 12.21),
    (3030.2, 13.19), (3031.8, 11.56), (3033.5, 8.94), (3035.3, 5.01), (3037.0, 0.0), (3038.3, -1.9),
    (3039.6, -2.42), (3040.9, -1.9), (3042.0, 0.0), (3043.5, 2.40), (3044.8, 5.01), (3046.5, 7.63),
    (3048.3, 8.68), (3050.0, 9.07), (3051.6, 9.14), (3053.9, 8.94), (3056.1, 8.81), (3058.7, 8.68),
    (3061.3, 7.63), (3063.9, 5.67), (3066.5, 3.70), (3069.1, 2.40), (3070.8, 2.13), (3072.6, 5.01),
    (3073.9, 8.94), (3075.6, 12.87), (3077.8, 15.48), (3080.4, 16.14), (3082.1, 12.87), (3083.9, 7.63),
    (3085.2, 5.01), (3086.2, 2.46), (3087.3, 5.01), (3088.6, 8.94), (3089.9, 10.12), (3091.7, 9.20),
    (3093.0, 9.07), (3094.3, 7.63), (3096.0, 5.01), (3097.3, 3.05), (3098.4, 1.74), (3099.5, 3.70),
    (3100.4, 7.63), (3101.2, 10.90), (3102.5, 12.41), (3103.8, 10.25), (3105.6, 7.63), (3107.3, 7.24),
    (3109.0, 7.30), (3111.2, 6.58), (3113.4, 7.37), (3115.1, 8.94), (3116.9, 11.56), (3118.6, 15.48),
    (3119.9, 16.01), (3121.2, 14.18), (3122.5, 12.21), (3123.8, 11.16), (3125.1, 12.87), (3126.8, 16.14),
    (3129.0, 17.51), (3130.7, 16.79), (3132.5, 14.83), (3135.1, 12.21), (3136.8, 11.23), (3138.6, 12.87),
    (3140.3, 15.48), (3141.8, 17.84), (3143.3, 14.83), (3144.6, 10.25), (3146.4, 5.01), (3147.5, 1.22),
    (3148.5, 3.70), (3149.8, 8.94), (3151.1, 12.87), (3152.4, 16.14), (3155.0, 17.05), (3156.4, 15.48),
    (3158.1, 11.56), (3159.8, 8.94), (3161.4, 7.17), (3162.9, 8.94), (3164.6, 12.21), (3166.3, 14.18),
    (3167.2, 14.44), (3168.9, 14.18), (3170.7, 14.18), (3172.0, 14.18), (3173.7, 14.70), (3175.9, 13.52),
    (3177.6, 11.56), (3179.8, 10.90), (3181.5, 10.64), (3183.3, 12.21), (3185.0, 14.18),
]

# Shaded intervals in track 2 (top, bottom depth), from division 1 to division 10
shade_top = [2688.0, 2809.0, 2905.9]
shade_bot = [2700.7, 2818.1, 2906.8]
shade_left, shade_right = 1.0, 10.0

T2_WRAP = 20.0       # full width of track 2 in divisions (wrap-around backup)
T2_HALF = 10.0       # the dashed curve is scaled on the left half of track 2

# ---------------- layout helpers ----------------
PX_T1 = (0, 457)
PX_DEPTH = (457, 610)
PX_T2 = (610, 1529)


def dom(px):
    return [px[0] / W, px[1] / W]


def unzip(pairs):
    return [p[1] for p in pairs], [p[0] for p in pairs]


fig = go.Figure()

# track 1
x, y = unzip(t1_blue)
fig.add_trace(go.Scatter(x=x, y=y, mode="lines", xaxis="x", yaxis="y",
                         line=dict(color="#0000ff", width=1.6), hoverinfo="skip"))
x, y = unzip(t1_thick)
fig.add_trace(go.Scatter(x=x, y=y, mode="lines", xaxis="x", yaxis="y",
                         line=dict(color="black", width=3.2, dash="14px,8px", shape="spline", smoothing=0.6),
                         hoverinfo="skip"))
x, y = unzip(t1_dashdot)
fig.add_trace(go.Scatter(x=x, y=y, mode="lines", xaxis="x", yaxis="y",
                         line=dict(color="black", width=1.5, dash="10px,4px,2px,4px"), hoverinfo="skip"))

# track 2 : shaded intervals
sx, sy = [], []
for t, b in zip(shade_top, shade_bot):
    sx += [shade_left, shade_right, shade_right, shade_left, shade_left, None]
    sy += [t, t, b, b, t, None]
fig.add_trace(go.Scatter(x=sx, y=sy, mode="lines", xaxis="x2", yaxis="y2", fill="toself",
                         fillcolor="rgba(0,0,0,0)",
                         fillpattern=dict(shape=".", size=3, solidity=0.55, fgcolor="#4a4a4a",
                                          bgcolor="rgba(205,205,205,0.55)"),
                         line=dict(color="black", width=1.6, dash="2px,2px"), hoverinfo="skip"))

# track 2 : blue (with wrap-around copy)
x, y = unzip(t2_blue)
blue_line = dict(color="#0000ff", width=3.5, shape="spline", smoothing=0.5)
fig.add_trace(go.Scatter(x=x, y=y, mode="lines", xaxis="x2", yaxis="y2",
                         line=blue_line, hoverinfo="skip"))
fig.add_trace(go.Scatter(x=[v + T2_WRAP for v in x], y=y, mode="lines", xaxis="x2", yaxis="y2",
                         line=blue_line, hoverinfo="skip"))

# track 2 : black dashed, limited to its half-track scale
x, y = unzip(t2_dashed)
fig.add_trace(go.Scatter(x=[min(v, T2_HALF) for v in x], y=y, mode="lines", xaxis="x2", yaxis="y2",
                         line=dict(color="black", width=1.5, dash="6px,4px"), hoverinfo="skip"))

# track 2 : red
x, y = unzip(t2_red)
fig.add_trace(go.Scatter(x=x, y=y, mode="lines", xaxis="x2", yaxis="y2",
                         line=dict(color="#ff0000", width=1.6), hoverinfo="skip"))

# depth labels
fig.add_trace(go.Scatter(x=[0.5] * len(depth_labels), y=depth_labels, mode="text",
                         text=[str(d) for d in depth_labels], xaxis="x3", yaxis="y3",
                         textposition="middle center",
                         textfont=dict(family="Liberation Sans, Arial, sans-serif", size=27, color="black"),
                         hoverinfo="skip"))

grid_x = dict(showgrid=True, tick0=0, dtick=5, gridcolor="#8a8a8a", gridwidth=2,
              minor=dict(dtick=1, showgrid=True, gridcolor="#ababab", gridwidth=1.3),
              showticklabels=False, ticks="", zeroline=False, showline=False, fixedrange=True)
grid_y = dict(showgrid=True, tick0=0, dtick=50, gridcolor="#8c8c8c", gridwidth=3,
              minor=dict(dtick=10, showgrid=True, gridcolor="#b0b0b0", gridwidth=2),
              showticklabels=False, ticks="", zeroline=False, showline=False,
              range=[DEPTH_BOT, DEPTH_TOP], fixedrange=True)

fig.update_layout(
    width=W, height=H,
    margin=dict(l=0, r=0, t=0, b=0),
    paper_bgcolor="white", plot_bgcolor="white",
    showlegend=False,
    xaxis=dict(domain=dom(PX_T1), range=[0.1, 10], anchor="y", **grid_x),
    yaxis=dict(domain=[0, 1], anchor="x", **grid_y),
    xaxis2=dict(domain=dom(PX_T2), range=[0, 20], anchor="y2", **grid_x),
    yaxis2=dict(domain=[0, 1], anchor="x2", matches="y", **grid_y),
    xaxis3=dict(domain=dom(PX_DEPTH), range=[0, 1], anchor="y3", visible=False, fixedrange=True),
    yaxis3=dict(domain=[0, 1], anchor="x3", matches="y", visible=False,
                range=[DEPTH_BOT, DEPTH_TOP], fixedrange=True),
)

# track borders
for px in (PX_T1[1], PX_T2[0], PX_T2[1]):
    fig.add_shape(type="line", xref="paper", yref="paper", x0=px / W, x1=px / W, y0=0, y1=1,
                  line=dict(color="#808080", width=2.5), layer="above")

fig.write_html("out.html")
